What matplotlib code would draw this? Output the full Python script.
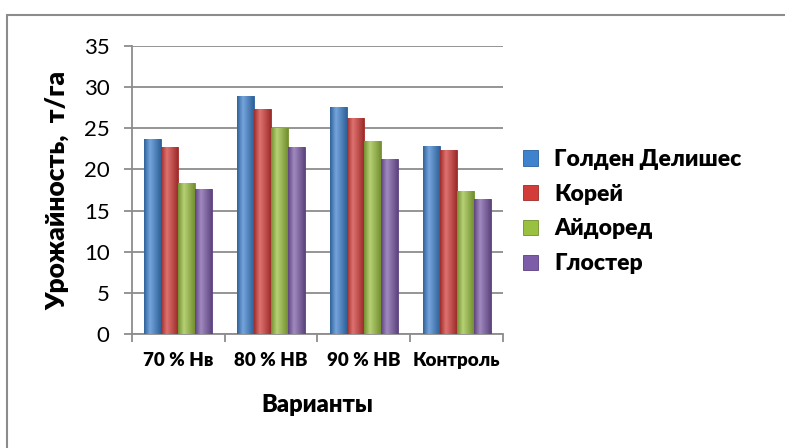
import matplotlib
matplotlib.use("Agg")
import matplotlib.pyplot as plt
import numpy as np
from matplotlib.patches import Rectangle
from matplotlib.colors import to_rgb

plt.rcParams['font.family'] = ['Lato', 'DejaVu Sans']

categories = ["70 % Нв", "80 % НВ", "90 % НВ", "Контроль"]
series_names = ["Голден Делишес", "Корей", "Айдоред", "Глостер"]
golden = [23.7, 28.9, 27.6, 22.9]
korei = [22.7, 27.3, 26.3, 22.4]
aidored = [18.4, 25.0, 23.4, 17.4]
gloster = [17.6, 22.7, 21.3, 16.4]
yticks = [0, 5, 10, 15, 20, 25, 30, 35]

series = [golden, korei, aidored, gloster]
colors = ["#3F82CE", "#D23C39", "#9AC040", "#7D5CA8"]
edges = ["#2A5E9E", "#A02A28", "#6F8F2A", "#5A3F80"]

fig = plt.figure(figsize=(7.85, 4.48), dpi=100)
fig.patches.append(Rectangle((7/785, -0.1), 1.2, (1 - 15/448) + 0.1,
                             transform=fig.transFigure, fill=False,
                             edgecolor="#8C8C8C", linewidth=1.5, zorder=0))

ax = fig.add_axes([131.7/785, 1 - 334/448, (503 - 131.7)/785, (334 - 46)/448])


def gradient_cmap(base):
    b = np.array(to_rgb(base))
    light = b + (1 - b) * 0.28
    dark = b * 0.75
    t = np.linspace(0, 1, 64)
    prof = np.where(t < 0.35, t / 0.35, 1 - (t - 0.35) / 0.65)
    rows = [dark + (light - dark) * p for p in prof]
    return np.array(rows)[None, :, :]


x = np.arange(len(categories))
w = 0.183
for i, (vals, c, e, name) in enumerate(zip(series, colors, edges, series_names)):
    bars = ax.bar(x + (i - 1.5) * w, vals, width=w, color=c, edgecolor=e,
                  linewidth=0.6, label=name, zorder=3)
    grad = gradient_cmap(c)
    for b in bars:
        bx, by = b.get_x(), b.get_y()
        bw, bh = b.get_width(), b.get_height()
        im = ax.imshow(grad, extent=(bx, bx + bw, by, by + bh), aspect="auto",
                       zorder=3.5, interpolation="bilinear")
        im.set_clip_path(b)

ax.set_xlim(-0.5, len(categories) - 0.5)
ax.set_ylim(0, 35)
ax.set_yticks(yticks)
ax.set_yticklabels([str(t) for t in yticks], fontsize=16)
ax.yaxis.grid(True, color="#8C8C8C", linewidth=1.3, zorder=0)
ax.set_axisbelow(True)

ax.set_xticks(x)
ax.set_xticks(np.arange(len(categories) + 1) - 0.5, minor=True)
ax.set_xticklabels(categories)
for lbl in ax.get_xticklabels():
    lbl.set_fontsize(13.5)
    lbl.set_fontweight("heavy")
ax.tick_params(axis="x", which="major", length=0, pad=13)
ax.tick_params(axis="x", which="minor", length=6, color="#8C8C8C", width=1.3)
ax.tick_params(axis="y", length=6, color="#8C8C8C", width=1.3, pad=10)

for s in ["top", "right"]:
    ax.spines[s].set_visible(False)
for s in ["left", "bottom"]:
    ax.spines[s].set_color("#8C8C8C")
    ax.spines[s].set_linewidth(1.3)

ax.set_ylabel("Урожайность,  т/га", fontsize=19, fontweight="heavy", labelpad=10)
ax.set_xlabel("Варианты", fontsize=17, fontweight="heavy", labelpad=18)

leg = ax.legend(loc="center left", bbox_to_anchor=(1.03, 0.425), frameon=False,
                fontsize=16.5, handlelength=0.65, handleheight=0.65,
                handletextpad=0.7, labelspacing=0.6, borderaxespad=0)
for t in leg.get_texts():
    t.set_fontweight("heavy")

fig.savefig("out.png", dpi=100)
